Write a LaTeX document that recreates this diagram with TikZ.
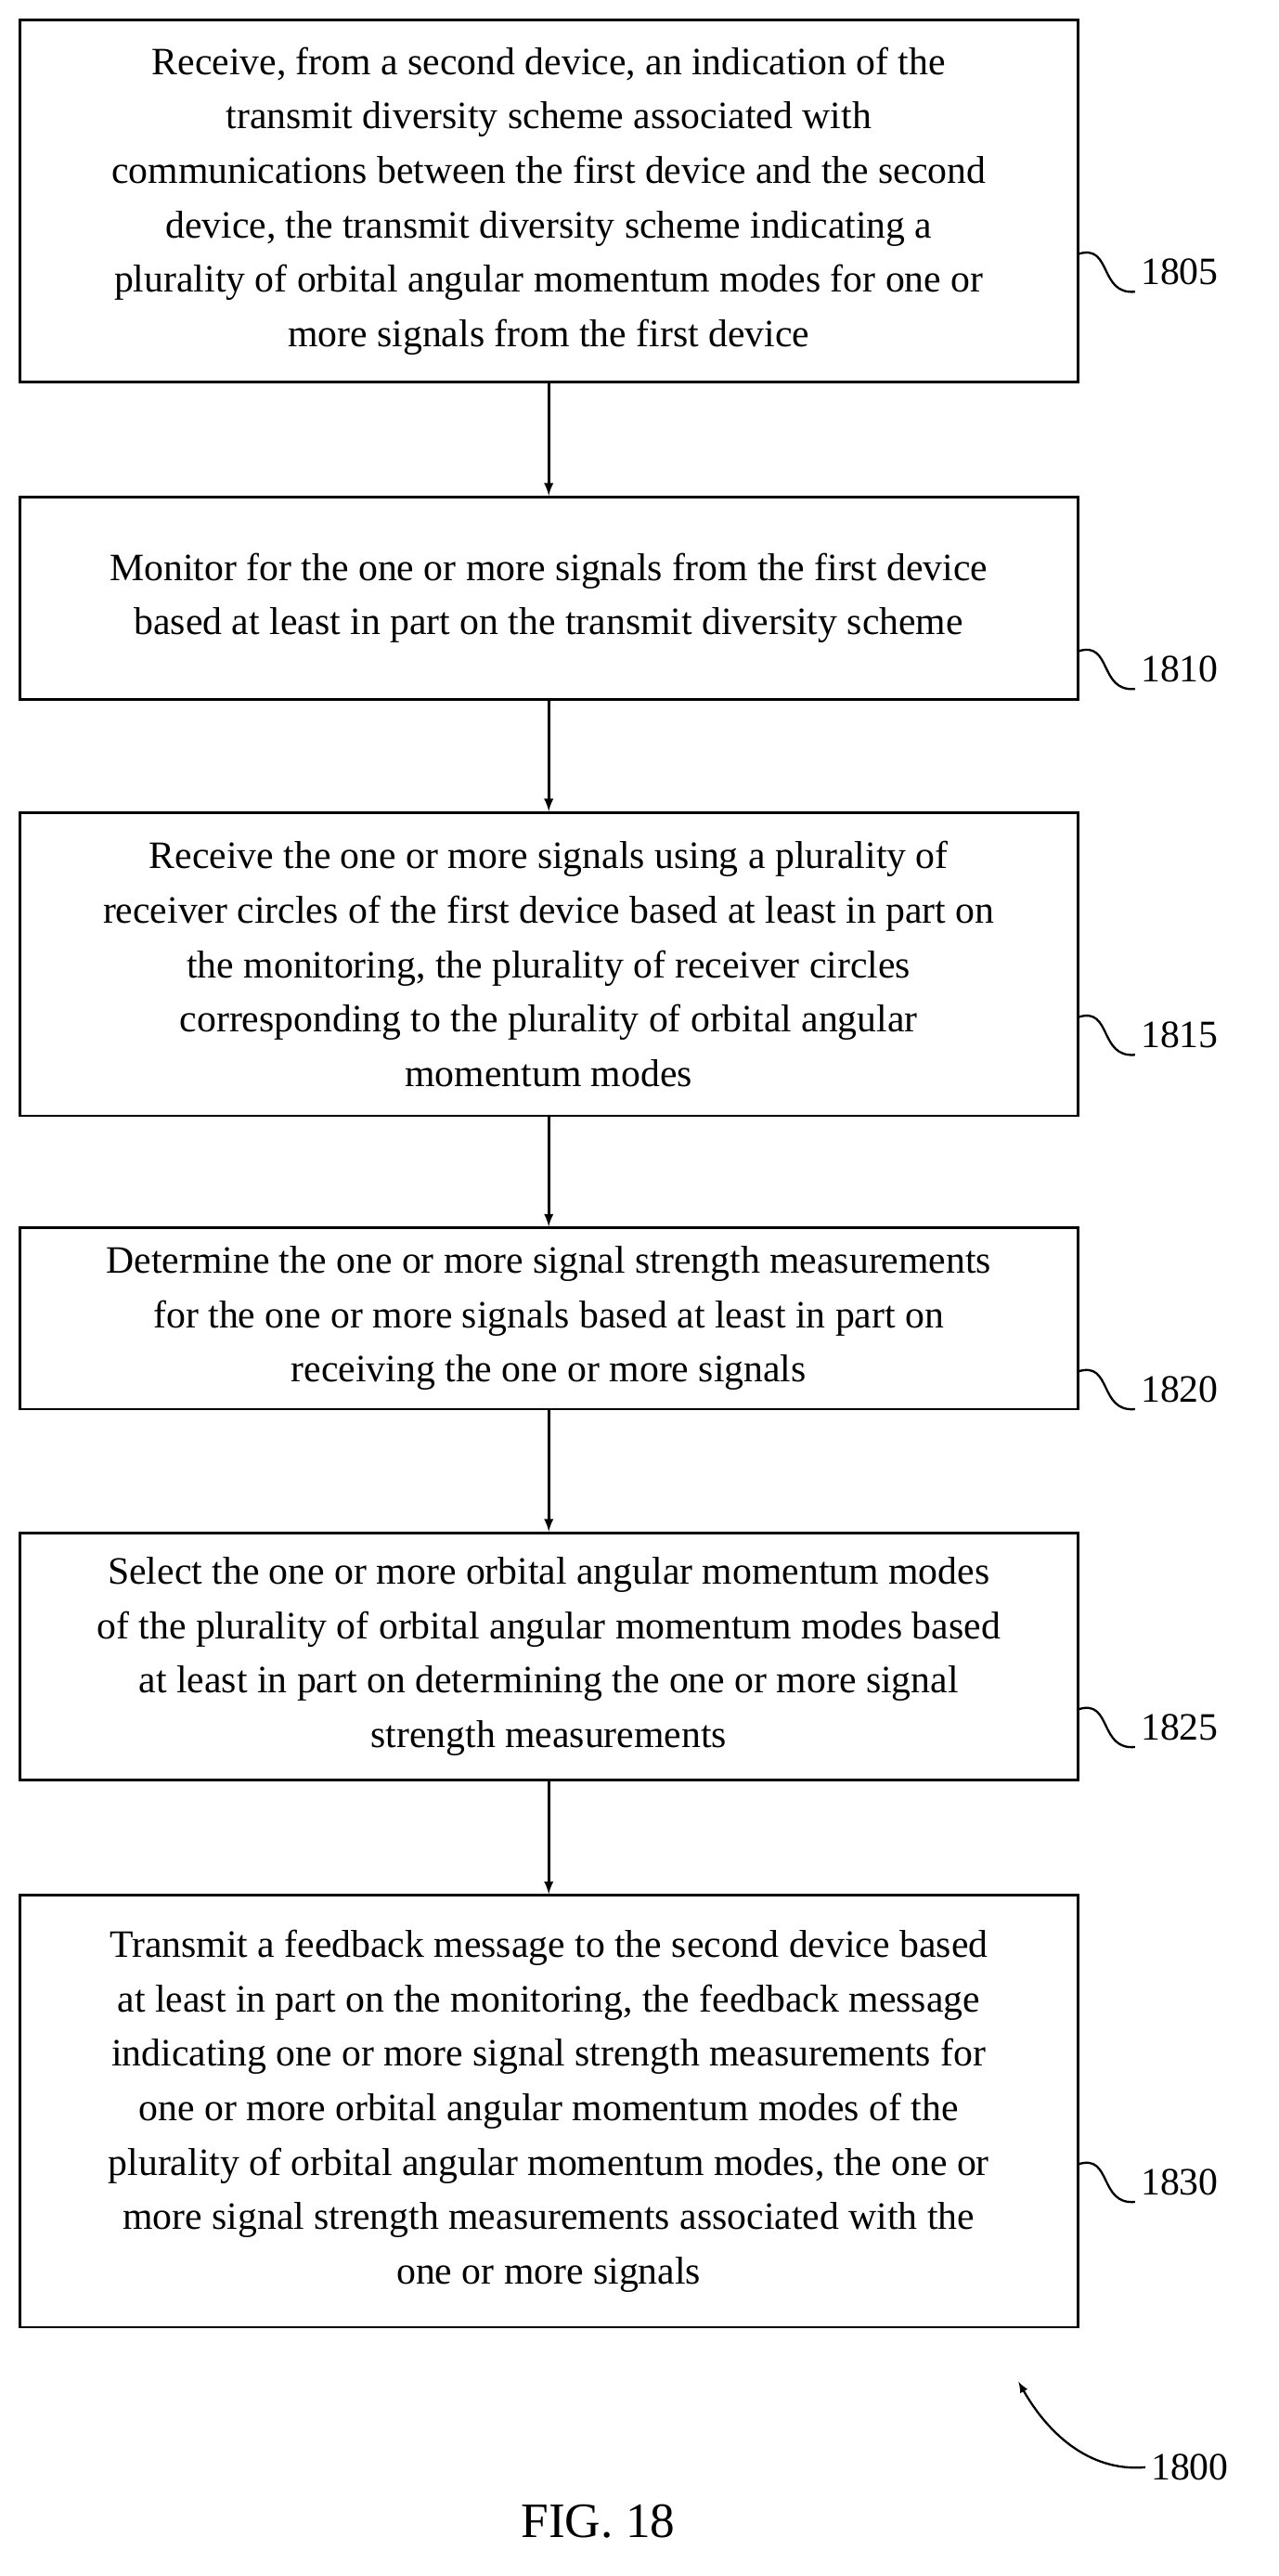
\documentclass[tikz,border=0pt]{standalone}
\usepackage{fontspec}
\setmainfont{Liberation Serif}
\begin{document}
\begin{tikzpicture}[x=1pt,y=-1pt,
  flowbox/.style={draw,line width=1.6pt,align=center,minimum width=642pt,font=\fontsize{23.5}{33}\selectfont},
  lbl/.style={anchor=west,font=\fontsize{23.5}{26}\selectfont},
  wig/.style={line width=1.3pt}]
\useasboundingbox (0,0) rectangle (776,1563);

\node[flowbox,minimum height=220pt] (s1) at (333,122) {Receive, from a second device, an indication of the\\transmit diversity scheme associated with\\communications between the first device and the second\\device, the transmit diversity scheme indicating a\\plurality of orbital angular momentum modes for one or\\more signals from the first device};
\node[flowbox,minimum height=123pt] (s2) at (333,363) {Monitor for the one or more signals from the first device\\based at least in part on the transmit diversity scheme};
\node[flowbox,minimum height=184pt] (s3) at (333,585) {Receive the one or more signals using a plurality of\\receiver circles of the first device based at least in part on\\the monitoring, the plurality of receiver circles\\corresponding to the plurality of orbital angular\\momentum modes};
\node[flowbox,minimum height=110pt] (s4) at (333,800) {Determine the one or more signal strength measurements\\for the one or more signals based at least in part on\\receiving the one or more signals};
\node[flowbox,minimum height=150pt] (s5) at (333,1005) {Select the one or more orbital angular momentum modes\\of the plurality of orbital angular momentum modes based\\at least in part on determining the one or more signal\\strength measurements};
\node[flowbox,minimum height=262pt] (s6) at (333,1281) {Transmit a feedback message to the second device based\\at least in part on the monitoring, the feedback message\\indicating one or more signal strength measurements for\\one or more orbital angular momentum modes of the\\plurality of orbital angular momentum modes, the one or\\more signal strength measurements associated with the\\one or more signals};

\foreach \a/\b in {s1/s2,s2/s3,s3/s4,s4/s5,s5/s6}
  \draw[line width=1.6pt,-latex] (\a) -- (\b);

\foreach \s/\n in {s1/1805,s2/1810,s3/1815,s4/1820,s5/1825,s6/1830}{
  \node[lbl] (l\n) at ([xshift=34pt,yshift=-43pt]\s.east) {\n};
  \draw[wig] ([yshift=-32pt]\s.east) .. controls +(20,-6) and +(-22,2) .. ([yshift=-12pt]l\n.west);
}

\node[lbl] (l1800) at (695,1497) {1800};
\coordinate (a1800) at (618,1445);
\draw[wig,-latex] (l1800.west) .. controls (660,1500) and (635,1475) .. (a1800);
\node[font=\fontsize{30}{32}\selectfont] (fig) at (363,1530) {FIG. 18};
\end{tikzpicture}
\end{document}
